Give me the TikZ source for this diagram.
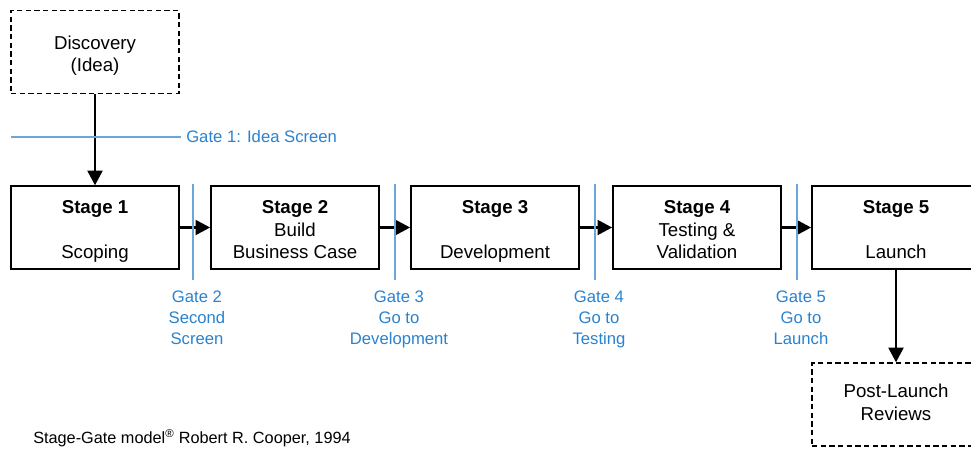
\documentclass[tikz,border=0pt]{standalone}
\usepackage{fontspec}
\setmainfont{Liberation Sans}
\usetikzlibrary{arrows.meta,positioning}
\definecolor{gateline}{HTML}{6AA5DC}
\definecolor{gatetext}{HTML}{2A82CF}
% taller first line, so the text sits a little low in its box
\newcommand\toprule{\rule{0pt}{17.9pt}}

\tikzset{
  stagebox/.style={draw,line width=1.2pt,minimum width=126pt,minimum height=62pt,align=center,font=\fontsize{14}{17}\selectfont,inner sep=0pt},
  openbox/.style={stagebox,dashed,dash pattern=on 4pt off 2.5pt},
  flow/.style={line width=2.2pt,-{Triangle[length=11pt,width=11pt]}},
  gate/.style={gateline,line width=0.8pt},
  gatelabel/.style={text=gatetext,align=center,font=\fontsize{12.5}{15.5}\selectfont,inner sep=0pt}
}

\begin{document}
\begin{tikzpicture}[x=0.75pt,y=-0.75pt]
  \clip (0,0) rectangle (971,450);
  % idea and stages
  \node[openbox] (idea) at (95,52) {\toprule Discovery\\(Idea)\strut};
  \node[stagebox] (s1) at (95,227.5) {\toprule\textbf{Stage 1}\\\mbox{}\\Scoping\strut};
  \node[stagebox] (s2) at (295,227.5) {\toprule\textbf{Stage 2}\\Build\\Business Case\strut};
  \node[stagebox] (s3) at (495,227.5) {\toprule\textbf{Stage 3}\\\mbox{}\\Development\strut};
  \node[stagebox] (s4) at (697,227.5) {\toprule\textbf{Stage 4}\\Testing \&\\Validation\strut};
  \node[stagebox] (s5) at (896,227.5) {\toprule\textbf{Stage 5}\\\mbox{}\\Launch\strut};
  \node[openbox] (review) at (896,404.5) {\strut Post-Launch\\Reviews\strut};

  \draw[flow] (idea) -- (s1);
  \foreach \a/\b in {s1/s2,s2/s3,s3/s4,s4/s5}{
    \draw[flow] (\a.east) -- (\b.west);
  }
  \draw[flow] (s5.south) -- (review.north);

  % gates
  \coordinate (g1a) at (11,137);
  \coordinate (g1b) at (181,137);
  \draw[gate] (g1a) -- (g1b);
  \node[gatelabel,anchor=west] (g1) at (186,137) {Gate 1: Idea Screen};
  \foreach \x/\n/\t in {193/2/Second\\Screen,395/3/Go to\\Development,595/4/Go to\\Testing,797/5/Go to\\Launch}{
    \coordinate (gt\n) at (\x,184);
    \coordinate (gb\n) at (\x,280);
    \draw[gate] (gt\n) -- (gb\n);
    \node[gatelabel,anchor=north] (g\n) at (\x+4,291) {Gate \n\\\t};
  }

  \node[anchor=west,font=\fontsize{12.2}{14}\selectfont,inner sep=0pt] (credit) at (33,438) {Stage-Gate model\textsuperscript{\textregistered} Robert R. Cooper, 1994};
\end{tikzpicture}
\end{document}
